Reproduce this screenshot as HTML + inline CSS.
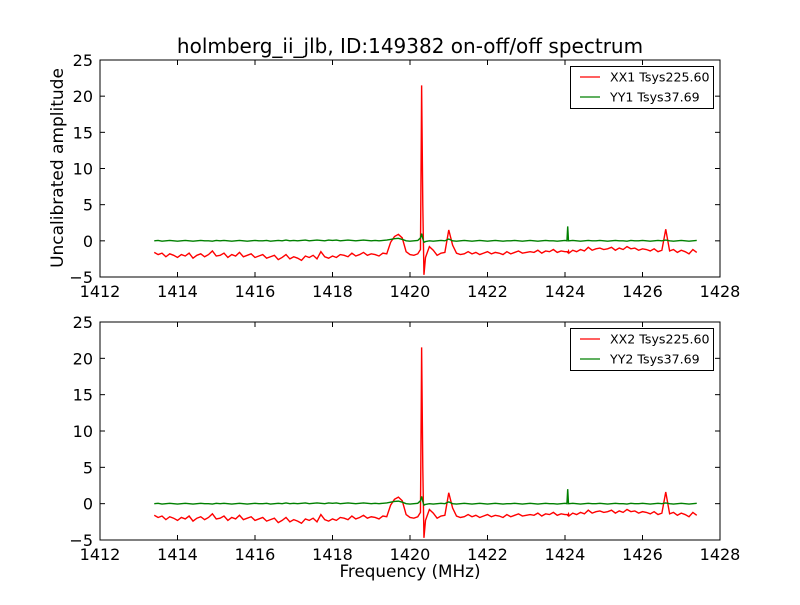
<!DOCTYPE html>
<html><head><meta charset="utf-8">
<style>
body{margin:0;background:#fff;}
svg{font-family:"DejaVu Sans","Liberation Sans",sans-serif;}
</style></head>
<body>
<svg id="chart" width="800" height="600" xmlns="http://www.w3.org/2000/svg">
<rect width="800" height="600" fill="#fff"/>
<text x="410" y="53" font-size="20" text-anchor="middle">holmberg_ii_jlb, ID:149382 on-off/off spectrum</text>
<text x="410" y="577" font-size="16.8" text-anchor="middle">Frequency (MHz)</text>
<text transform="translate(63,168) rotate(-90)" font-size="17" text-anchor="middle">Uncalibrated amplitude</text>
</svg>
<script>
const freqStart = 1413.4;
const freqStep = 0.1;
const xxValues = [-1.6,-1.9,-1.7,-2.2,-1.8,-2.0,-2.3,
-1.9,-2.1,-1.7,-2.4,-2.0,-1.8,-2.2,-1.9,-1.4,-2.1,
-2.0,-1.7,-2.3,-1.9,-2.1,-1.6,-2.2,-2.0,-1.8,-2.3,
-2.1,-1.9,-2.4,-2.2,-2.0,-2.6,-2.3,-1.9,-2.5,-2.2,
-2.4,-2.7,-2.1,-2.3,-2.0,-2.5,-1.5,-2.2,-2.4,-2.1,
-2.3,-1.9,-2.0,-2.2,-1.7,-2.1,-1.9,-1.6,-2.0,-1.8,
-1.9,-2.1,-1.7,-1.8,-0.2,0.6,0.9,0.4,-1.5,-1.9,
-2.0,-1.8,21.5,-2.3,-0.8,-1.3,-2.0,-1.7,-1.6,1.5,
-0.6,-1.7,-1.9,-1.8,-1.5,-1.8,-1.6,-1.9,-1.7,-1.5,
-1.8,-1.6,-1.7,-1.9,-1.5,-1.8,-1.6,-1.4,-1.7,-1.6,
-1.5,-1.6,-1.3,-1.7,-1.4,-1.5,-1.2,-1.6,-1.4,-1.5,
-1.7,-1.3,-1.5,-1.2,-1.4,-0.9,-1.3,-1.1,-1.0,-1.2,
-1.1,-0.9,-1.3,-1.0,-1.2,-0.8,-1.1,-1.0,-1.3,-1.1,
-1.2,-1.4,-1.1,-1.5,-1.3,1.6,-1.4,-1.2,-1.6,-1.3,
-1.5,-1.8,-1.2,-1.6];
const yyValues = [0.0,0.05,-0.05,0.0,0.05,0.0,-0.05,
0.0,0.05,0.0,-0.05,0.0,0.05,0.0,0.0,-0.05,0.05,
0.0,0.05,0.0,-0.05,0.0,0.05,0.0,-0.05,0.0,0.05,
0.0,0.0,0.05,-0.05,0.0,0.05,0.0,0.1,0.0,0.05,
0.0,0.05,0.1,0.0,0.05,0.1,0.05,0.0,0.1,0.05,
0.1,0.0,0.05,0.1,0.05,0.0,0.05,0.1,0.05,0.0,
0.05,0.0,0.05,0.1,0.2,0.3,0.35,0.2,0.0,-0.05,
0.0,0.05,1.0,-0.1,0.0,-0.05,0.0,0.05,0.0,0.25,
0.0,-0.05,0.0,0.05,0.0,-0.05,0.0,0.05,0.0,-0.05,
0.0,0.05,0.0,-0.05,0.0,0.0,0.05,0.0,-0.05,0.0,
0.05,0.0,-0.05,0.0,0.05,0.0,0.0,-0.05,0.0,0.05,
0.0,0.05,0.0,-0.05,0.0,0.05,0.0,0.0,0.05,0.0,
-0.05,0.0,0.05,0.0,0.0,-0.05,0.05,0.0,0.0,0.05,
0.0,-0.05,0.0,0.05,0.0,0.1,0.0,-0.05,0.0,0.05,
0.0,-0.05,0.0,0.05];
const extraFreqs = [1420.27,1420.29,1420.33,1420.36,1424.05,1424.07,1424.09];
const extraXX = [-1.2,13.5,5.0,-4.7,-1.5,-1.6,-1.4];
const extraYY = [0.4,0.8,0.3,-0.2,0.0,2.0,0.0];
const xTicks = [1412,1414,1416,1418,1420,1422,1424,1426,1428];
const yTicks = [-5,0,5,10,15,20,25];
const legendTop = ["XX1 Tsys225.60","YY1 Tsys37.69"];
const legendBottom = ["XX2 Tsys225.60","YY2 Tsys37.69"];

const svg = document.getElementById('chart');
const NS = "http://www.w3.org/2000/svg";
function mk(tag, attrs, parent){const e=document.createElementNS(NS,tag);for(const k in attrs)e.setAttribute(k,attrs[k]);(parent||svg).appendChild(e);return e;}

const pts = [];
xxValues.forEach((v,i)=>pts.push([+(freqStart+i*freqStep).toFixed(3), v, yyValues[i]]));
extraFreqs.forEach((f,i)=>pts.push([f, extraXX[i], extraYY[i]]));
pts.sort((a,b)=>a[0]-b[0]);

function panel(top, bottom, legend, tag){
  const L=100,R=720;
  const xs=f=>L+(f-1412)/(1428-1412)*(R-L);
  const ys=v=>bottom-(v+5)/30*(bottom-top);
  const g=mk('g',{});
  
  
  const clip=mk('clipPath',{id:'clip'+tag},g);
  mk('rect',{x:L,y:top,width:R-L,height:bottom-top},clip);
  const series=[[1,'#ff0000','xx-line'],[2,'#008000','yy-line']];
  series.forEach(([idx,col,nm])=>{
    const d=pts.map((p,i)=>(i?'L':'M')+xs(p[0]).toFixed(2)+','+ys(p[idx]).toFixed(2)).join('');
    const p=mk('path',{d:d,fill:'none',stroke:col,'stroke-width':1.4,'clip-path':'url(#clip'+tag+')'},g);
    
    
  });
  mk('rect',{x:L,y:top,width:R-L,height:bottom-top,fill:'none',stroke:'#000','stroke-width':1},g);
  xTicks.forEach(t=>{
    const x=xs(t);
    mk('line',{x1:x,x2:x,y1:bottom,y2:bottom-5,stroke:'#000'},g);
    mk('line',{x1:x,x2:x,y1:top,y2:top+5,stroke:'#000'},g);
    const tx=mk('text',{x:x,y:bottom+20,'font-size':16,'text-anchor':'middle'},g);
    tx.textContent=t;
    
    
  });
  yTicks.forEach(t=>{
    const y=ys(t);
    mk('line',{x1:L,x2:L+5,y1:y,y2:y,stroke:'#000'},g);
    mk('line',{x1:R,x2:R-5,y1:y,y2:y,stroke:'#000'},g);
    const tx=mk('text',{x:L-7,y:y+6,'font-size':16,'text-anchor':'end'},g);
    tx.textContent=t<0?'\u2212'+Math.abs(t):t;
    
    
  });
  const lg=mk('g',{},g);
  
  
  mk('rect',{x:570.5,y:top+6.5,width:143,height:42,fill:'#fff',stroke:'#000'},lg);
  legend.forEach((lab,i)=>{
    const y=top+17+i*20;
    const col=i?'#008000':'#ff0000';
    mk('line',{x1:580,x2:600,y1:y,y2:y,stroke:col,'stroke-width':1.3},lg);
    const tx=mk('text',{x:610,y:y+4.5,'font-size':12.6},lg);
    tx.textContent=lab;
    
    
  });
}
panel(60,277,legendTop,'top');
panel(322,540,legendBottom,'bottom');
</script>
</body></html>
